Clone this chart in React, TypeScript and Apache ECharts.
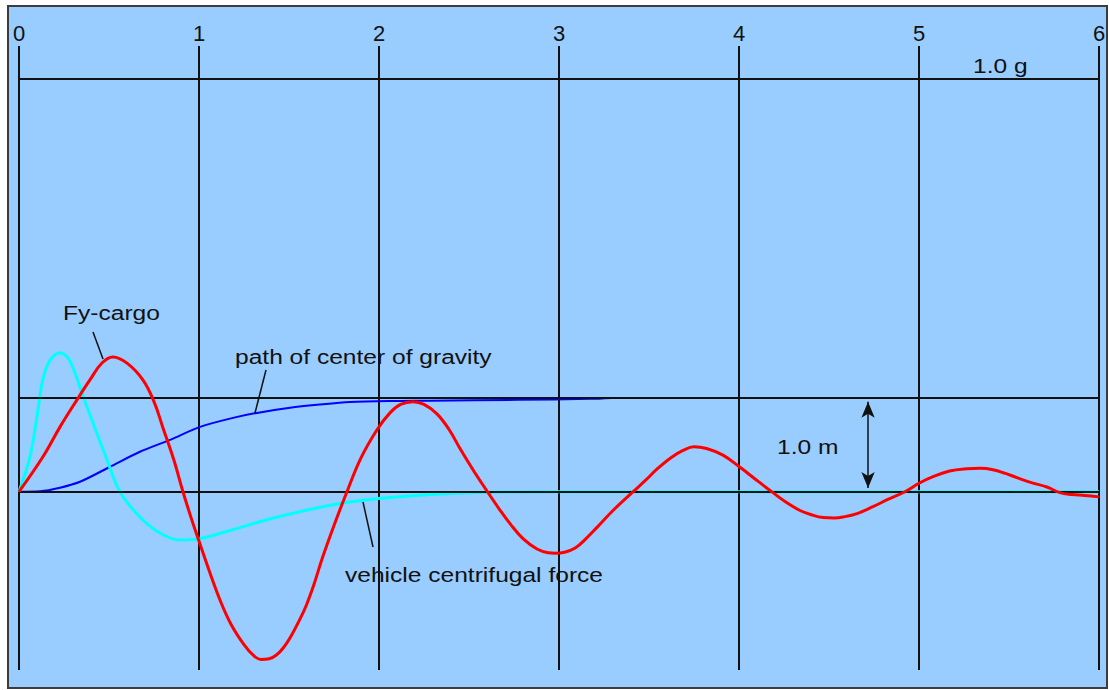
import React, { useEffect, useRef } from "react";
import * as echarts from "echarts";

// Time axis (seconds) shown along the top edge
const timeTicks = [0, 1, 2, 3, 4, 5, 6];

// Lateral force on the cargo (red), [t, y]
const fyCargo: [number, number][] = [
  [0, 0], [0.133, 0.372], [0.228, 0.691], [0.322, 0.979], [0.394, 1.191],
  [0.461, 1.372], [0.522, 1.436], [0.6, 1.37], [0.689, 1.19], [0.75, 0.96],
  [0.8, 0.68], [0.86, 0.34], [0.911, 0], [0.96, -0.3], [1.006, -0.56],
  [1.06, -0.86], [1.12, -1.17], [1.18, -1.42], [1.25, -1.63], [1.3, -1.74],
  [1.344, -1.787], [1.39, -1.78], [1.43, -1.74], [1.47, -1.66], [1.511, -1.54],
  [1.56, -1.36], [1.594, -1.22], [1.64, -0.98], [1.683, -0.72], [1.75, -0.36],
  [1.822, 0], [1.9, 0.36], [1.989, 0.66], [2.061, 0.84], [2.12, 0.93],
  [2.189, 0.96], [2.25, 0.93], [2.322, 0.83], [2.39, 0.66], [2.45, 0.46],
  [2.53, 0.21], [2.606, -0.01], [2.67, -0.19], [2.728, -0.34], [2.8, -0.5],
  [2.878, -0.61], [2.94, -0.65], [2.98, -0.655], [3.03, -0.645], [3.09, -0.6],
  [3.15, -0.5], [3.211, -0.38], [3.3, -0.2], [3.406, -0.01], [3.48, 0.12],
  [3.544, 0.24], [3.62, 0.36], [3.689, 0.44], [3.75, 0.48], [3.82, 0.46],
  [3.911, 0.39], [4.006, 0.26], [4.1, 0.12], [4.189, -0.01], [4.26, -0.11],
  [4.339, -0.2], [4.41, -0.25], [4.467, -0.275], [4.53, -0.28], [4.578, -0.27],
  [4.66, -0.23], [4.744, -0.16], [4.83, -0.08], [4.922, 0], [5.0, 0.09],
  [5.078, 0.16], [5.17, 0.22], [5.267, 0.245], [5.34, 0.25], [5.411, 0.235],
  [5.48, 0.195], [5.544, 0.15], [5.62, 0.1], [5.711, 0.05], [5.783, -0.01],
  [5.85, -0.03], [5.92, -0.04], [6.0, -0.055],
];

// Vehicle centrifugal force (cyan), [t, y]
const centrifugal: [number, number][] = [
  [0, 0], [0.061, 0.372], [0.1, 0.8], [0.133, 1.2], [0.172, 1.4],
  [0.228, 1.479], [0.272, 1.426], [0.311, 1.266], [0.35, 1.053], [0.411, 0.734],
  [0.489, 0.34], [0.561, 0], [0.672, -0.27], [0.783, -0.44], [0.894, -0.515],
  [1.006, -0.5], [1.189, -0.404], [1.378, -0.298], [1.561, -0.213],
  [1.744, -0.138], [1.933, -0.085], [2.117, -0.053], [2.283, -0.03],
  [2.5, -0.01], [3.0, 0], [4.0, 0], [5.0, 0], [6.0, 0],
];

// Path of the centre of gravity (blue), [t, y]
const cgPath: [number, number][] = [
  [0, 0], [0.117, 0.005], [0.228, 0.043], [0.339, 0.106], [0.506, 0.266],
  [0.672, 0.426], [0.839, 0.553], [1.006, 0.691], [1.189, 0.787],
  [1.322, 0.84], [1.506, 0.894], [1.656, 0.926], [1.839, 0.957],
  [2.117, 0.968], [2.283, 0.97], [2.767, 0.979], [3.172, 0.99], [3.294, 1.0],
];

// Horizontal reference levels: zero, 1.0 m and 1.0 g
const refLevels = [0, 1, 4.4];

// Dimension arrow for the 1.0 m offset: [t, from, to]
const metreArrow = [4.717, 0.04, 0.96];

const FONT = '21px "Liberation Sans", Arial, sans-serif';
const INK = "#111111";

function label(text: string, x: number, y: number) {
  return {
    type: "text",
    x,
    y,
    scaleX: 1.17,
    z: 10,
    style: {
      text,
      font: FONT,
      fill: INK,
      textAlign: "left",
      textVerticalAlign: "middle",
      align: "left",
      verticalAlign: "middle",
    },
  };
}

function leader(x1: number, y1: number, x2: number, y2: number) {
  return {
    type: "line",
    z: 10,
    shape: { x1, y1, x2, y2 },
    style: { stroke: INK, lineWidth: 1.5 },
  };
}

export default function App() {
  const ref = useRef<HTMLDivElement>(null);

  useEffect(() => {
    const chart = echarts.init(ref.current!, null, { renderer: "svg" });
    chart.setOption({
      animation: false,
      grid: { left: 19, right: 10, top: 46, bottom: 20 },
      xAxis: {
        type: "value",
        position: "top",
        min: timeTicks[0],
        max: timeTicks[timeTicks.length - 1],
        interval: 1,
        axisLine: { show: false },
        axisTick: { show: false },
        axisLabel: {
          show: true,
          margin: 2,
          showMinLabel: true,
          showMaxLabel: true,
          color: INK,
          fontSize: 22,
          fontFamily: '"Liberation Sans", Arial, sans-serif',
          formatter: (v: number) => String(v),
        },
        splitLine: { show: true, lineStyle: { color: INK, width: 2 } },
      },
      yAxis: {
        type: "value",
        min: -1.9,
        max: 4.75,
        show: false,
        splitLine: { show: false },
      },
      series: [
        {
          name: "path of center of gravity",
          type: "line",
          data: cgPath,
          showSymbol: false,
          smooth: 0.3,
          z: 3,
          lineStyle: { color: "#0000ff", width: 2 },
          markLine: {
            silent: true,
            symbol: ["none", "none"],
            label: { show: false },
            lineStyle: { color: INK, width: 2, type: "solid" },
            data: refLevels.map((v) => ({ yAxis: v })),
          },
        },
        {
          name: "vehicle centrifugal force",
          type: "line",
          data: centrifugal,
          showSymbol: false,
          smooth: 0.35,
          z: 4,
          lineStyle: { color: "#00ffff", width: 3 },
          markLine: {
            silent: true,
            symbol: ["arrow", "arrow"],
            symbolSize: [10, 16],
            label: { show: false },
            lineStyle: { color: INK, width: 1.5, type: "solid" },
            itemStyle: { color: INK },
            data: [
              [
                { coord: [metreArrow[0], metreArrow[1]] },
                { coord: [metreArrow[0], metreArrow[2]] },
              ],
            ],
          },
        },
        {
          name: "Fy-cargo",
          type: "line",
          data: fyCargo,
          showSymbol: false,
          smooth: 0.4,
          z: 5,
          lineStyle: { color: "#ff0000", width: 3 },
        },
      ],
      graphic: [
        label("1.0 g", 973, 66),
        label("Fy-cargo", 63, 313),
        label("path of center of gravity", 235, 357),
        label("vehicle centrifugal force", 345, 575),
        label("1.0 m", 777, 447),
        leader(93, 332, 103, 359),
        leader(266, 370, 255, 413),
        leader(363, 502, 373, 547),
      ],
    });
    return () => chart.dispose();
  }, []);

  return (
    <div
      style={{
        position: "fixed",
        left: 0,
        top: 0,
        width: 1109,
        height: 690,
        background: "#ffffff",
      }}
    >
      <div
        style={{
          position: "absolute",
          left: 7,
          top: 5,
          width: 1101,
          height: 684,
          boxSizing: "border-box",
          border: "2px solid #3c3c3c",
          background: "#99ccff",
        }}
      />
      <div
        ref={ref}
        style={{ position: "absolute", left: 0, top: 0, width: 1109, height: 690 }}
      />
    </div>
  );
}
